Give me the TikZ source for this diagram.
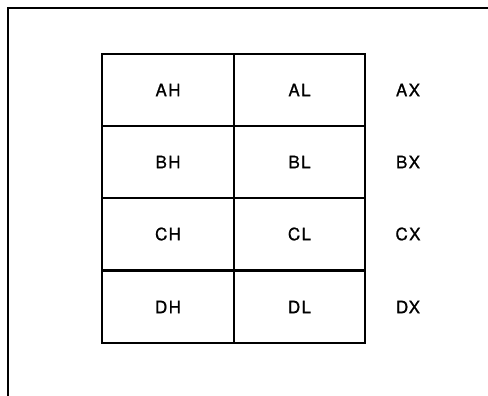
\documentclass[tikz,border=0pt]{standalone}
\usepackage{fontspec}
\setmainfont{TeX Gyre Heros}[LetterSpace=8,FakeBold=0.8]
\begin{document}
\begin{tikzpicture}[x=1pt,y=-1pt,
  cell/.style={draw,line width=2.6pt,minimum width=132pt,minimum height=72pt,inner sep=0pt,font=\fontsize{17}{19}\selectfont},
  reg/.style={inner sep=0pt,font=\fontsize{17}{19}\selectfont},
  frame/.style={line width=2pt}]
\useasboundingbox (0,0) rectangle (488,396);
\coordinate (tl) at (8,8);
\coordinate (tr) at (488,8);
\coordinate (bl) at (8,396);
\draw[frame] (tr) -- (tl) -- (bl);
\foreach \r/\y in {A/90,B/162,C/234,D/307}{
  \node[cell,anchor=center] (\r H) at (168,\y) {\r H};
  \node[cell,anchor=center,minimum width=131pt] (\r L) at (299.5,\y) {\r L};
  \node[reg] (\r X) at (408,\y) {\r X};
}
\end{tikzpicture}
\end{document}
